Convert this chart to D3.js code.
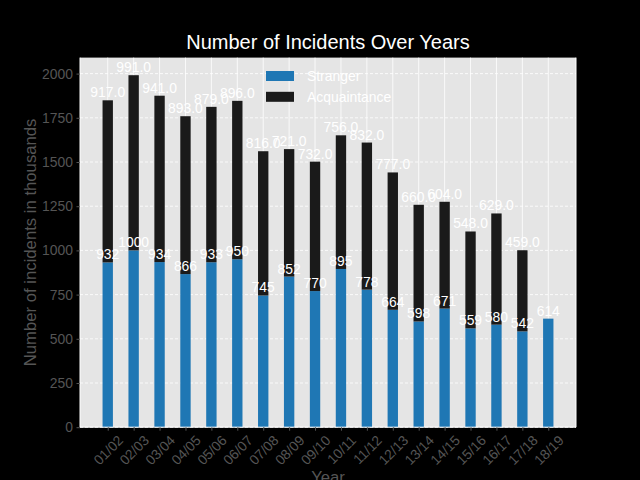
<!DOCTYPE html>
<html>
<head>
  <meta charset="utf-8">
  <title>Number of Incidents Over Years</title>
  <script src="https://d3js.org/d3.v7.min.js"></script>
  <style>
    body { margin: 0; background: #000; }
    svg { display: block; font-family: "Liberation Sans", Arial, sans-serif; }
  </style>
</head>
<body>
  <svg width="640" height="480"></svg>
  <script>
  // data
  var years = ["01/02", "02/03", "03/04", "04/05", "05/06", "06/07", "07/08", "08/09", "09/10",
               "10/11", "11/12", "12/13", "13/14", "14/15", "15/16", "16/17", "17/18", "18/19"];
  var stranger = [932, 1000, 934, 866, 933, 950, 745, 852, 770, 895, 778, 664, 598, 671, 559, 580, 542, 614];
  var acquaintance = [917, 991, 941, 893, 879, 896, 816, 721, 732, 756, 832, 777, 660, 604, 548, 629, 459, null];
  var yTicks = [0, 250, 500, 750, 1000, 1250, 1500, 1750, 2000];

  var svg = d3.select("svg");
  svg.append("rect").attr("width", 640).attr("height", 480).attr("fill", "#000");

  // plot area (window.top is reserved, so use other names)
  var pL = 80, pR = 576, pT = 57.6, pB = 427.2;
  var barW = 0.4;
  var n = years.length;

  var totals = stranger.map(function(d, i) { return d + (acquaintance[i] || 0); });
  var x = d3.scaleLinear()
    .domain([-barW / 2 - (n - 1 + barW) * 0.05, n - 1 + barW / 2 + (n - 1 + barW) * 0.05])
    .range([pL, pR]);
  var y = d3.scaleLinear().domain([0, d3.max(totals) * 1.05]).range([pB, pT]);

  // axes background
  svg.append("rect")
    .attr("x", pL).attr("y", pT)
    .attr("width", pR - pL).attr("height", pB - pT)
    .attr("fill", "#e5e5e5");

  // grid
  svg.append("g").selectAll("line").data(yTicks).enter().append("line")
    .attr("x1", pL).attr("x2", pR)
    .attr("y1", function(d) { return y(d); }).attr("y2", function(d) { return y(d); })
    .attr("stroke", "#fff").attr("stroke-width", 0.8).attr("stroke-dasharray", "3,2");
  svg.append("g").selectAll("line").data(d3.range(n)).enter().append("line")
    .attr("x1", function(d) { return x(d); }).attr("x2", function(d) { return x(d); })
    .attr("y1", pT).attr("y2", pB)
    .attr("stroke", "#fff").attr("stroke-width", 0.8);

  // stacked bars
  svg.append("g").selectAll("rect").data(stranger).enter().append("rect")
    .attr("x", function(d, i) { return x(i - barW / 2); })
    .attr("width", x(barW) - x(0))
    .attr("y", function(d) { return y(d); })
    .attr("height", function(d) { return y(0) - y(d); })
    .attr("fill", "#1f77b4");

  var acqData = acquaintance.map(function(d, i) { return {i: i, v: d, base: stranger[i]}; })
    .filter(function(d) { return d.v != null; });

  svg.append("g").selectAll("rect").data(acqData).enter().append("rect")
    .attr("x", function(d) { return x(d.i - barW / 2); })
    .attr("width", x(barW) - x(0))
    .attr("y", function(d) { return y(d.base + d.v); })
    .attr("height", function(d) { return y(d.base) - y(d.base + d.v); })
    .attr("fill", "#1a1a1a");

  // spines
  svg.append("line").attr("x1", pL).attr("x2", pL).attr("y1", pT).attr("y2", pB)
    .attr("stroke", "#fff").attr("stroke-width", 1);
  svg.append("line").attr("x1", pR).attr("x2", pR).attr("y1", pT).attr("y2", pB)
    .attr("stroke", "#fff").attr("stroke-width", 1);
  svg.append("line").attr("x1", pL).attr("x2", pR).attr("y1", pB).attr("y2", pB)
    .attr("stroke", "#fff").attr("stroke-width", 1);

  // value labels
  svg.append("g").selectAll("text").data(stranger).enter().append("text")
    .attr("x", function(d, i) { return x(i); })
    .attr("y", function(d) { return y(d) - 3; })
    .attr("text-anchor", "middle")
    .attr("fill", "#fff").attr("font-size", "13.9px")
    .text(function(d) { return d; });

  svg.append("g").selectAll("text").data(acqData).enter().append("text")
    .attr("x", function(d) { return x(d.i); })
    .attr("y", function(d) { return y(d.base + d.v) - 3; })
    .attr("text-anchor", "middle")
    .attr("fill", "#fff").attr("font-size", "13.9px")
    .text(function(d) { return d.v.toFixed(1); });

  // y axis
  var yAxis = svg.append("g")
    .attr("transform", "translate(" + pL + ",0)")
    .call(d3.axisLeft(y).tickValues(yTicks).tickFormat(d3.format("d"))
      .tickSize(3.5).tickPadding(3.5));
  yAxis.select(".domain").remove();
  yAxis.selectAll("line").attr("stroke", "#555");
  yAxis.selectAll("text").attr("fill", "#555").attr("font-size", "13.9px")
    .attr("font-family", "Liberation Sans, Arial, sans-serif");

  // x axis
  var xAxis = svg.append("g")
    .attr("transform", "translate(0," + pB + ")")
    .call(d3.axisBottom(x).tickValues(d3.range(n))
      .tickFormat(function(i) { return years[i]; }).tickSize(3.5));
  xAxis.select(".domain").remove();
  xAxis.selectAll("line").attr("stroke", "#555");
  xAxis.selectAll("text")
    .attr("fill", "#555").attr("font-size", "13.9px")
    .attr("font-family", "Liberation Sans, Arial, sans-serif")
    .attr("text-anchor", "middle").attr("dy", null).attr("dominant-baseline", "central")
    .attr("y", 0)
    .attr("transform", function() {
      var w = this.getComputedTextLength();
      var off = 7 + (w + 10) * Math.SQRT1_2 / 2;
      return "translate(0," + off + ") rotate(-45)";
    });

  // axis labels and title
  svg.append("text")
    .attr("x", (pL + pR) / 2).attr("y", 483)
    .attr("text-anchor", "middle")
    .attr("fill", "#555").attr("font-size", "16.7px")
    .text("Year");
  svg.append("text")
    .attr("transform", "translate(36," + (pT + pB) / 2 + ") rotate(-90)")
    .attr("text-anchor", "middle")
    .attr("fill", "#555").attr("font-size", "16.7px")
    .text("Number of incidents in thousands");
  svg.append("text")
    .attr("x", (pL + pR) / 2).attr("y", 49)
    .attr("text-anchor", "middle")
    .attr("fill", "#fff").attr("font-size", "20px")
    .text("Number of Incidents Over Years");

  // legend
  var legendItems = [{name: "Stranger", color: "#1f77b4"}, {name: "Acquaintance", color: "#1a1a1a"}];
  var lg = svg.append("g").selectAll("g").data(legendItems).enter().append("g")
    .attr("transform", function(d, i) { return "translate(266," + (71 + i * 20.8) + ")"; });
  lg.append("rect").attr("width", 28).attr("height", 10).attr("fill", function(d) { return d.color; });
  lg.append("text").attr("x", 41).attr("y", 10)
    .attr("fill", "#fff").attr("font-size", "13.9px")
    .text(function(d) { return d.name; });
  </script>
</body>
</html>
